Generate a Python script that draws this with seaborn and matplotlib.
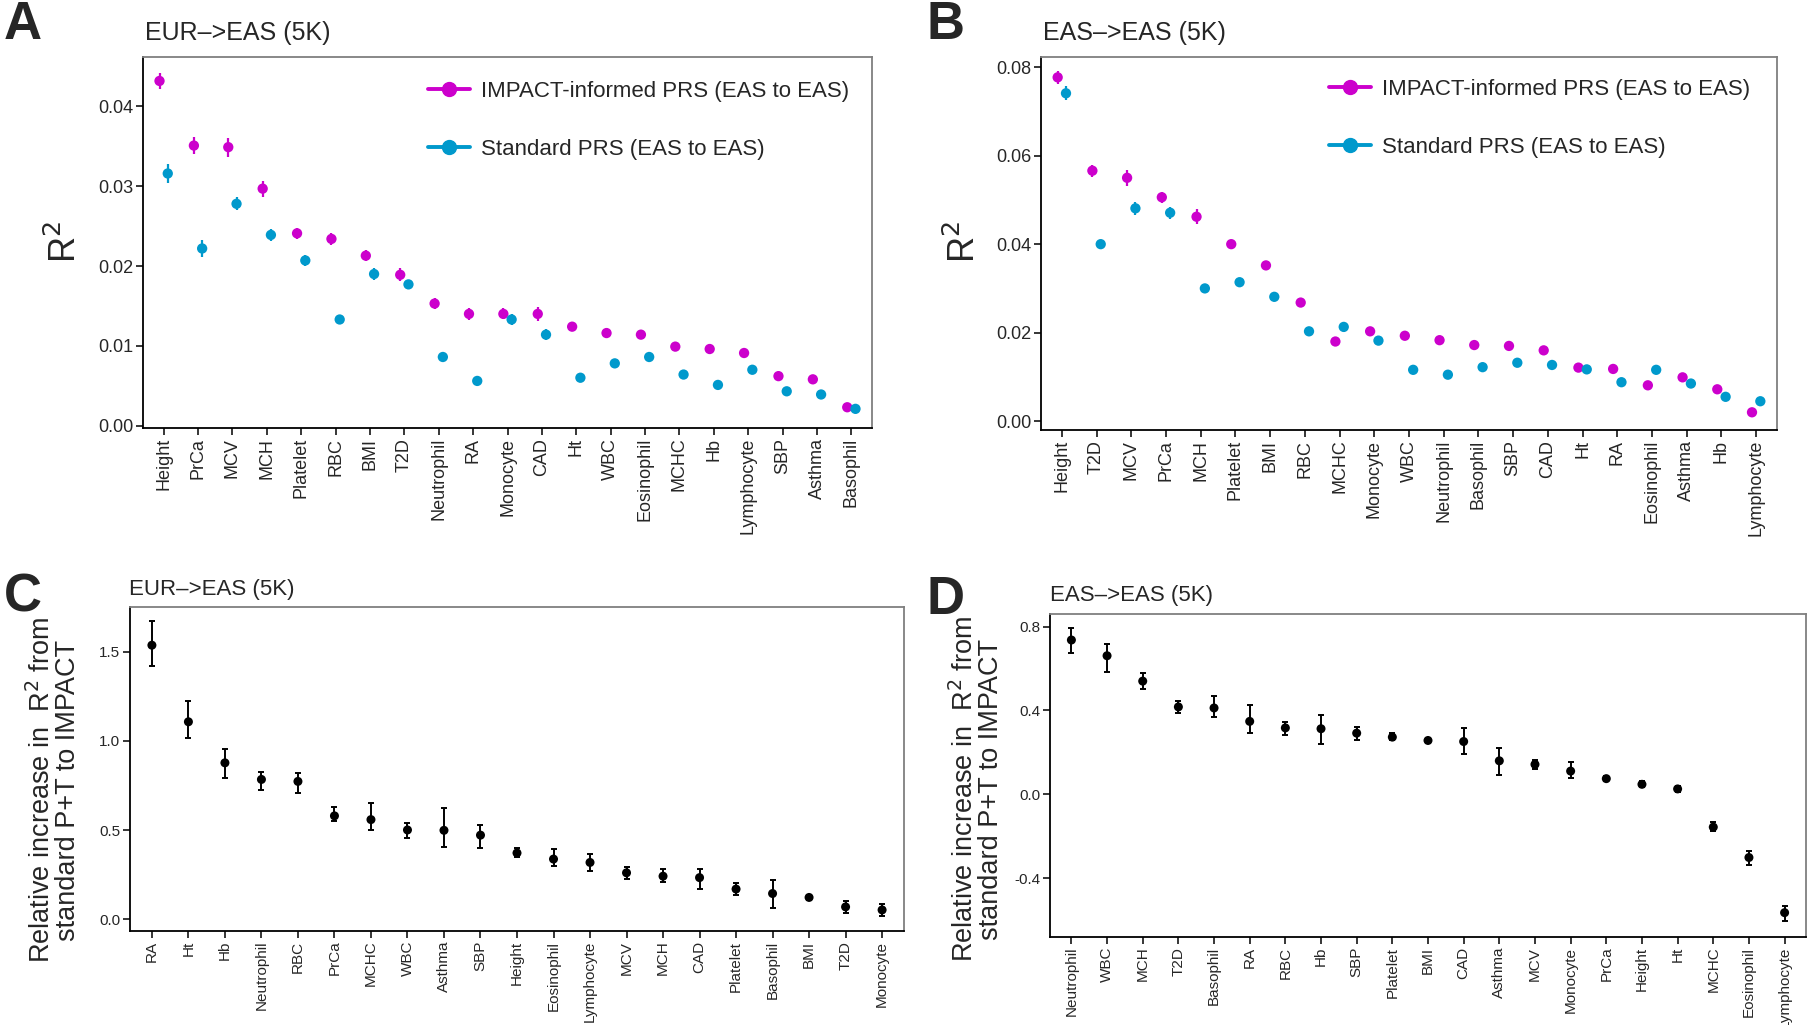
import numpy as np
import pandas as pd
import matplotlib
matplotlib.use('Agg')
import matplotlib.pyplot as plt
import seaborn as sns
from matplotlib.lines import Line2D

sns.set_theme(style='white')
plt.rcParams['font.family'] = ['Liberation Sans', 'DejaVu Sans']

MAGENTA = '#CC00CC'
BLUE = '#0099CC'
W, H = 1810, 1025

# A: EUR->EAS, R2 per trait
a_traits = ['Height', 'PrCa', 'MCV', 'MCH', 'Platelet', 'RBC', 'BMI', 'T2D', 'Neutrophil', 'RA',
            'Monocyte', 'CAD', 'Ht', 'WBC', 'Eosinophil', 'MCHC', 'Hb', 'Lymphocyte', 'SBP',
            'Asthma', 'Basophil']
a_impact = [0.0432, 0.0351, 0.0349, 0.0297, 0.0241, 0.0234, 0.0213, 0.0189, 0.0153, 0.0140,
            0.0140, 0.0140, 0.0124, 0.0116, 0.0114, 0.0099, 0.0096, 0.0091, 0.0062, 0.0058, 0.0023]
a_impact_err = [0.0010, 0.0011, 0.0012, 0.0010, 0.0007, 0.0008, 0.0007, 0.0008, 0.0007, 0.0008,
                0.0007, 0.0009, 0.0006, 0.0004, 0.0005, 0.0004, 0.0004, 0.0004, 0.0004, 0.0004, 0.0003]
a_standard = [0.0316, 0.0222, 0.0278, 0.0239, 0.0207, 0.0133, 0.0190, 0.0177, 0.0086, 0.0056,
              0.0133, 0.0114, 0.0060, 0.0078, 0.0086, 0.0064, 0.0051, 0.0070, 0.0043, 0.0039, 0.0021]
a_standard_err = [0.0012, 0.0011, 0.0008, 0.0007, 0.0007, 0.0005, 0.0007, 0.0006, 0.0004, 0.0004,
                  0.0007, 0.0007, 0.0004, 0.0004, 0.0005, 0.0004, 0.0004, 0.0004, 0.0004, 0.0004, 0.0003]

# B: EAS->EAS, R2 per trait
b_traits = ['Height', 'T2D', 'MCV', 'PrCa', 'MCH', 'Platelet', 'BMI', 'RBC', 'MCHC', 'Monocyte',
            'WBC', 'Neutrophil', 'Basophil', 'SBP', 'CAD', 'Ht', 'RA', 'Eosinophil', 'Asthma',
            'Hb', 'Lymphocyte']
b_impact = [0.0777, 0.0566, 0.0550, 0.0506, 0.0462, 0.0400, 0.0352, 0.0268, 0.0180, 0.0203,
            0.0193, 0.0183, 0.0172, 0.0170, 0.0160, 0.0121, 0.0118, 0.0081, 0.0099, 0.0072, 0.0020]
b_impact_err = [0.0014, 0.0014, 0.0018, 0.0012, 0.0017, 0.0006, 0.0006, 0.0009, 0.0009, 0.0007,
                0.0006, 0.0006, 0.0006, 0.0006, 0.0006, 0.0005, 0.0004, 0.0006, 0.0005, 0.0005, 0.0004]
b_standard = [0.0741, 0.0400, 0.0481, 0.0471, 0.0300, 0.0314, 0.0281, 0.0203, 0.0213, 0.0182,
              0.0116, 0.0105, 0.0122, 0.0132, 0.0127, 0.0117, 0.0088, 0.0116, 0.0085, 0.0055, 0.0045]
b_standard_err = [0.0016, 0.0006, 0.0014, 0.0013, 0.0008, 0.0008, 0.0006, 0.0005, 0.0011, 0.0007,
                  0.0006, 0.0006, 0.0005, 0.0006, 0.0006, 0.0005, 0.0005, 0.0006, 0.0005, 0.0005, 0.0005]

# C: EUR->EAS relative increase
c_traits = ['RA', 'Ht', 'Hb', 'Neutrophil', 'RBC', 'PrCa', 'MCHC', 'WBC', 'Asthma', 'SBP', 'Height',
            'Eosinophil', 'Lymphocyte', 'MCV', 'MCH', 'CAD', 'Platelet', 'Basophil', 'BMI', 'T2D',
            'Monocyte']
c_value = [1.536, 1.107, 0.877, 0.784, 0.773, 0.580, 0.559, 0.501, 0.499, 0.472, 0.372, 0.338,
           0.319, 0.261, 0.242, 0.234, 0.170, 0.145, 0.123, 0.070, 0.053]
c_low = [1.420, 1.014, 0.793, 0.725, 0.708, 0.554, 0.499, 0.455, 0.406, 0.402, 0.350, 0.297,
         0.270, 0.227, 0.208, 0.170, 0.136, 0.066, 0.111, 0.036, 0.017]
c_high = [1.672, 1.226, 0.952, 0.826, 0.822, 0.631, 0.650, 0.538, 0.622, 0.531, 0.399, 0.395,
          0.365, 0.293, 0.283, 0.282, 0.204, 0.219, 0.136, 0.104, 0.089]

# D: EAS->EAS relative increase
d_traits = ['Neutrophil', 'WBC', 'MCH', 'T2D', 'Basophil', 'RA', 'RBC', 'Hb', 'SBP', 'Platelet',
            'BMI', 'CAD', 'Asthma', 'MCV', 'Monocyte', 'PrCa', 'Height', 'Ht', 'MCHC',
            'Eosinophil', 'Lymphocyte']
d_value = [0.736, 0.661, 0.540, 0.417, 0.412, 0.348, 0.317, 0.313, 0.292, 0.273, 0.257, 0.252,
           0.160, 0.143, 0.111, 0.075, 0.048, 0.026, -0.156, -0.301, -0.564]
d_low = [0.675, 0.582, 0.502, 0.386, 0.369, 0.295, 0.284, 0.242, 0.258, 0.257, 0.245, 0.191,
         0.093, 0.122, 0.080, 0.063, 0.034, 0.011, -0.175, -0.335, -0.604]
d_high = [0.791, 0.715, 0.580, 0.444, 0.467, 0.427, 0.345, 0.380, 0.319, 0.295, 0.268, 0.316,
          0.223, 0.162, 0.152, 0.088, 0.063, 0.040, -0.133, -0.271, -0.531]

LEGEND_LABELS = ['IMPACT-informed PRS (EAS to EAS)', 'Standard PRS (EAS to EAS)']

fig = plt.figure(figsize=(W / 100, H / 100), dpi=100)


def px_axes(l, t, r, b):
    return fig.add_axes([l / W, 1 - b / H, (r - l) / W, (b - t) / H])


def style_axes(ax, xfs, yfs):
    for s in ['top', 'right']:
        ax.spines[s].set_color('#7f7f7f')
        ax.spines[s].set_linewidth(1.3)
    for s in ['left', 'bottom']:
        ax.spines[s].set_color('black')
        ax.spines[s].set_linewidth(1.3)
    ax.tick_params(axis='both', which='both', bottom=True, left=True, direction='out',
                   length=5, width=1.1, color='black', pad=2)
    ax.tick_params(axis='x', labelsize=xfs, labelrotation=90)
    ax.tick_params(axis='y', labelsize=yfs)
    ax.set_xlabel('')
    ax.set_ylabel('')


def r2_panel(ax, traits, impact, impact_err, standard, standard_err, ylim, yticks, lx, ly):
    pos = np.arange(len(traits))
    df = pd.DataFrame({
        'x': np.concatenate([pos - 0.12, pos + 0.12]),
        'r2': impact + standard,
        'err': impact_err + standard_err,
        'model': [LEGEND_LABELS[0]] * len(traits) + [LEGEND_LABELS[1]] * len(traits),
    })
    for label, color in zip(LEGEND_LABELS, [MAGENTA, BLUE]):
        sub = df[df['model'] == label]
        ax.errorbar(sub['x'], sub['r2'], yerr=sub['err'], fmt='none', ecolor=color,
                    elinewidth=1.6, capsize=0, zorder=2)
    sns.scatterplot(data=df, x='x', y='r2', hue='model', palette=[MAGENTA, BLUE],
                    s=55, edgecolor='none', legend=False, ax=ax, zorder=3)
    ax.set_xticks(pos)
    ax.set_xticklabels(traits)
    ax.set_xlim(-0.6, len(traits) - 0.4)
    ax.set_ylim(*ylim)
    ax.set_yticks(yticks)
    ax.set_yticklabels([f'{v:.2f}' for v in yticks])
    style_axes(ax, 13, 13)
    handles = [Line2D([0], [0], color=c, lw=2.8, marker='o', markersize=10) for c in [MAGENTA, BLUE]]
    ax.legend(handles, LEGEND_LABELS, loc='upper left', bbox_to_anchor=(lx / W, 1 - ly / H),
              bbox_transform=fig.transFigure, frameon=False, fontsize=16, handlelength=1.9,
              handletextpad=0.5, labelspacing=1.65, borderpad=0, borderaxespad=0)


def rel_panel(ax, traits, value, low, high, ylim, yticks, ytl):
    pos = np.arange(len(traits))
    df = pd.DataFrame({'x': pos, 'v': value, 'lo': low, 'hi': high})
    ax.errorbar(df['x'], df['v'], yerr=[df['v'] - df['lo'], df['hi'] - df['v']], fmt='none',
                ecolor='black', elinewidth=1.4, capsize=2, capthick=1.4, zorder=2)
    sns.scatterplot(data=df, x='x', y='v', color='black', s=42, edgecolor='none', ax=ax, zorder=3)
    ax.set_xticks(pos)
    ax.set_xticklabels(traits)
    ax.set_xlim(-0.6, len(traits) - 0.4)
    ax.set_ylim(*ylim)
    ax.set_yticks(yticks)
    ax.set_yticklabels(ytl)
    style_axes(ax, 11, 11)


ax_a = px_axes(143, 57, 872, 428)
r2_panel(ax_a, a_traits, a_impact, a_impact_err, a_standard, a_standard_err,
         (-0.0003, 0.0462), [0.0, 0.01, 0.02, 0.03, 0.04], 428, 81)
ax_b = px_axes(1041, 57, 1777, 430)
r2_panel(ax_b, b_traits, b_impact, b_impact_err, b_standard, b_standard_err,
         (-0.002, 0.0823), [0.0, 0.02, 0.04, 0.06, 0.08], 1329, 79)
ax_c = px_axes(130, 607, 904, 931)
rel_panel(ax_c, c_traits, c_value, c_low, c_high, (-0.065, 1.75), [0.0, 0.5, 1.0, 1.5],
          ['0.0', '0.5', '1.0', '1.5'])
ax_d = px_axes(1050, 614, 1806, 937)
rel_panel(ax_d, d_traits, d_value, d_low, d_high, (-0.68, 0.86), [-0.4, 0.0, 0.4, 0.8],
          ['-0.4', '0.0', '0.4', '0.8'])

# titles, panel letters, axis labels
for x, y, t, fs in [(145, 33, 'EUR\u2013>EAS (5K)', 18), (1043, 33, 'EAS\u2013>EAS (5K)', 18),
                    (129, 590, 'EUR\u2013>EAS (5K)', 16), (1050, 596, 'EAS\u2013>EAS (5K)', 16)]:
    fig.text(x / W, 1 - y / H, t, fontsize=fs, ha='left', va='center')
for x, y, t in [(4, 25, 'A'), (926, 25, 'B'), (4, 598, 'C'), (926, 600, 'D')]:
    fig.text(x / W, 1 - y / H, t, fontsize=38, fontweight='bold', ha='left', va='center')
fig.text(66 / W, 1 - 242 / H, 'R$^2$', fontsize=26, rotation=90, ha='center', va='center')
fig.text(965 / W, 1 - 242 / H, 'R$^2$', fontsize=26, rotation=90, ha='center', va='center')
ylab = 'Relative increase in  R$^2$ from\nstandard P+T to IMPACT'
fig.text(54 / W, 1 - 790 / H, ylab, fontsize=19.5, rotation=90, ha='center', va='center',
         linespacing=0.95)
fig.text(977 / W, 1 - 789 / H, ylab, fontsize=19.5, rotation=90, ha='center', va='center',
         linespacing=0.95)

fig.savefig('out.png', dpi=100)
